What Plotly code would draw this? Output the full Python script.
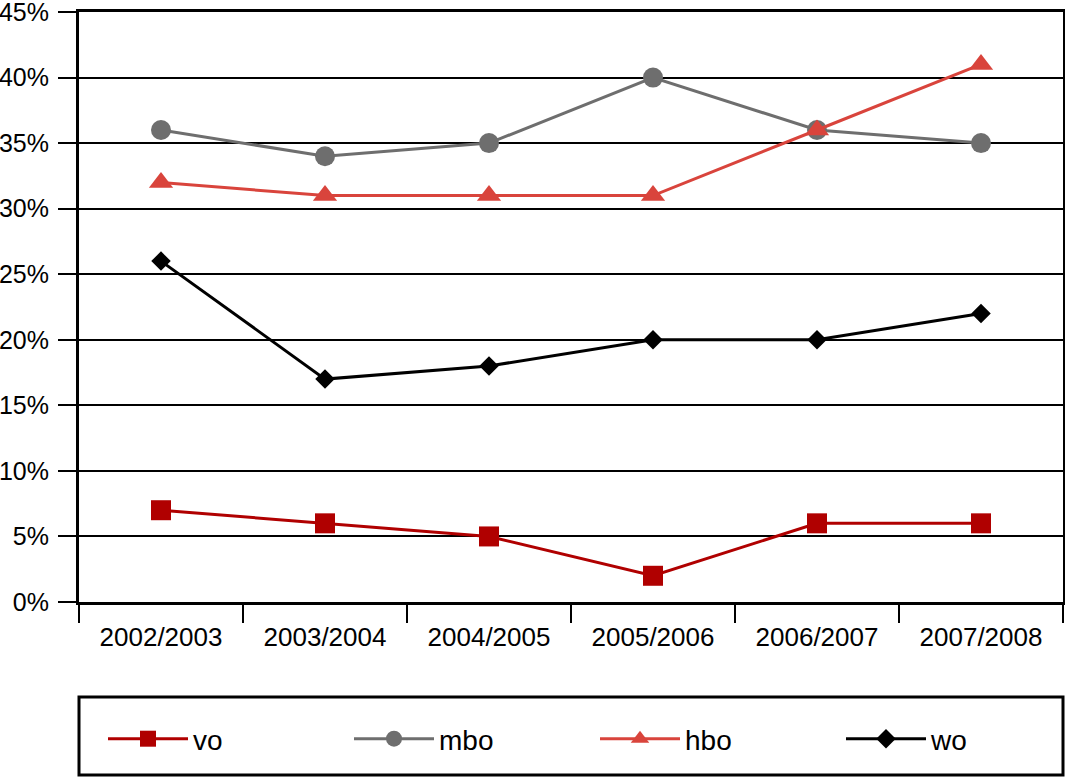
import plotly.graph_objects as go

categories = ["2002/2003", "2003/2004", "2004/2005", "2005/2006", "2006/2007", "2007/2008"]
vo = [7, 6, 5, 2, 6, 6]
mbo = [36, 34, 35, 40, 36, 35]
hbo = [32, 31, 31, 31, 36, 41]
wo = [26, 17, 18, 20, 20, 22]
y_ticks = [0, 5, 10, 15, 20, 25, 30, 35, 40, 45]

FONT = "Liberation Sans, Arial, sans-serif"

series = [
    ("vo", vo, "#B00000", "square", 20),
    ("mbo", mbo, "#6E6E6E", "circle", 20),
    ("hbo", hbo, "#D9443C", "triangle-up", 21),
    ("wo", wo, "#000000", "diamond", 15),
]

fig = go.Figure()
for name, vals, color, sym, size in series:
    fig.add_trace(go.Scatter(
        x=categories, y=vals, name=name, mode="lines+markers",
        line=dict(color=color, width=3),
        marker=dict(symbol=sym, size=size, color=color, line=dict(width=0)),
    ))

fig.update_layout(
    width=1065, height=778,
    margin=dict(l=79, r=2, t=12, b=176, autoexpand=False),
    paper_bgcolor="white", plot_bgcolor="white",
    font=dict(family=FONT, size=26, color="black"),
    showlegend=True,
    legend=dict(
        orientation="h", xref="container", yref="container",
        x=103 / 1065, xanchor="left", y=1 - 739 / 778, yanchor="middle",
        entrywidth=151, entrywidthmode="pixels", itemwidth=80,
        font=dict(family=FONT, size=28, color="black"),
        bgcolor="rgba(0,0,0,0)", borderwidth=0, traceorder="normal",
    ),
    shapes=[dict(
        type="rect", xref="paper", yref="paper",
        x0=0, x1=1, y0=-(697 - 602) / 590, y1=-(775 - 602) / 590,
        line=dict(color="black", width=3), fillcolor="rgba(0,0,0,0)",
    )],
)

fig.update_xaxes(
    type="category", tickson="boundaries", ticks="outside", ticklen=18,
    tickwidth=2, tickcolor="black", showline=True, linewidth=3,
    linecolor="black", mirror=True, showgrid=False,
    tickfont=dict(family=FONT, size=26), range=[-0.5, 5.5],
    ticklabelstandoff=10, automargin=False,
)
fig.update_yaxes(
    range=[0, 45], tickvals=y_ticks, ticktext=[f"{v}%" for v in y_ticks],
    ticks="outside", ticklen=18, tickwidth=2, tickcolor="black",
    showline=True, linewidth=3, linecolor="black", mirror=True,
    showgrid=True, gridcolor="black", gridwidth=2, zeroline=False,
    tickfont=dict(family=FONT, size=25), ticklabeloverflow="allow",
    ticklabelstandoff=4, automargin=False,
)

fig.write_html("out.html")
